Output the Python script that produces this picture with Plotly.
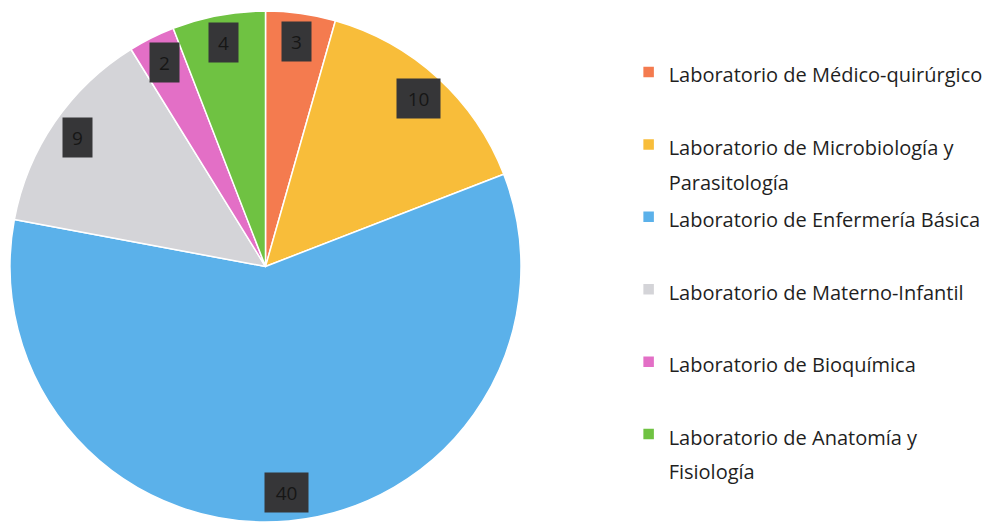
import math
import plotly.graph_objects as go

labels = [
    "Laboratorio de Médico-quirúrgico",
    "Laboratorio de Microbiología y<br>Parasitología",
    "Laboratorio de Enfermería Básica",
    "Laboratorio de Materno-Infantil",
    "Laboratorio de Bioquímica",
    "Laboratorio de Anatomía y<br>Fisiología",
]
values = [3, 10, 40, 9, 2, 4]
colors = ["#F47B4F", "#F8BD3A", "#5BB1EA", "#D4D4D8", "#E36FC6", "#6FC242"]

W, H = 993, 523
# the page body adds an 8px offset, so figure coords = screen coords - 8
cx_px, cy_px, r_px = 257.5, 258.5, 255.5

# pad legend labels to equal height (2 lines) so items are evenly spaced;
# glyphs drawn smaller than the legend's layout font size (which sets spacing)
def pad(lbl):
    lines = lbl.split("<br>")
    n = len(lines)
    lines = ["<span style='font-size:20px'>" + s + "</span>" for s in lines]
    return "<br>".join(lines) + "<br>\u00a0" * (2 - n)

legend_labels = [pad(l) for l in labels]

fig = go.Figure(go.Pie(
    labels=legend_labels,
    values=values,
    sort=False,
    direction="clockwise",
    rotation=0,
    marker=dict(colors=colors, line=dict(color="white", width=1.5)),
    textinfo="none",
    hoverinfo="label+value",
    domain=dict(x=[(cx_px - r_px) / W, (cx_px + r_px) / W],
                y=[1 - (cy_px + r_px) / H, 1 - (cy_px - r_px) / H]),
))

# data labels near the outer end of each slice (from cumulative values)
total = sum(values)
cum = 0
annotations = []
for v in values:
    mid = (cum + v / 2) / total * 2 * math.pi
    cum += v
    rr = 0.89 * r_px
    px = cx_px + rr * math.sin(mid)
    py = cy_px - rr * math.cos(mid)
    w = 29 if v < 10 else 43
    annotations.append(dict(
        x=px / W, y=1 - py / H, xref="paper", yref="paper",
        text=str(v), showarrow=False,
        font=dict(family="Open Sans, Liberation Sans, sans-serif", size=19, color="#161616"),
        bgcolor="#363638", width=w, height=39, borderpad=0,
        xanchor="center", yanchor="middle",
    ))

fig.update_layout(
    width=W, height=H,
    margin=dict(l=0, r=0, t=0, b=0),
    paper_bgcolor="white",
    plot_bgcolor="white",
    showlegend=True,
    legend=dict(
        x=0.625, y=0.9232, xanchor="left", yanchor="top",
        font=dict(family="Open Sans, Liberation Sans, sans-serif", size=26.7, color="#1f1f1f"),
        valign="top",
        traceorder="normal",
        bgcolor="rgba(0,0,0,0)",
    ),
    annotations=annotations,
)

fig.write_html("out.html")
